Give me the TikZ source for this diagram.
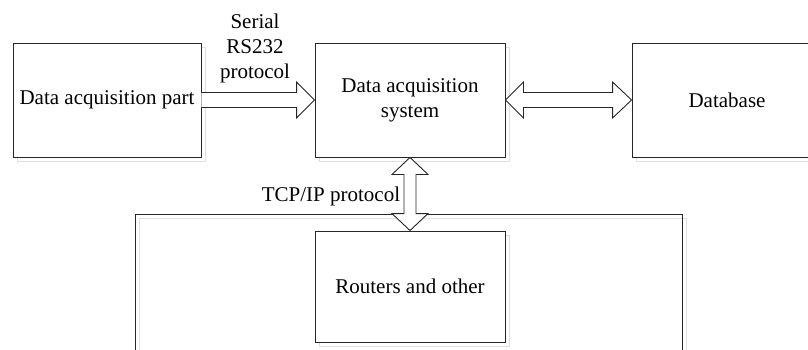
\documentclass[tikz,border=0pt]{standalone}
\usepackage{fontspec}
\setmainfont{Liberation Serif}
\usetikzlibrary{calc}
\tikzset{
  box/.style={draw=black!85, line width=0.9pt, inner sep=0pt, align=center,
    font=\fontsize{21}{25}\selectfont},
  shadowbox/.style={draw=black!12, line width=1pt},
  fatarrow/.style={draw=black!85, line width=0.9pt, fill=white, line join=miter},
  lbl/.style={inner sep=0pt, align=center, font=\fontsize{21}{25}\selectfont}
}
\begin{document}
\begin{tikzpicture}[x=1pt, y=-1pt]
\useasboundingbox (0,0) rectangle (808,349);
\clip (0,0) rectangle (808,349);
% shadows
\draw[shadowbox] (17,47) rectangle (205,161);
\draw[shadowbox] (319,47) rectangle (509,161);
\draw[shadowbox] (636,47) rectangle (826,161);
\draw[shadowbox] (139,218) rectangle (686,400);
\draw[shadowbox] (319,235) rectangle (509,346);
% boxes
\node[box, minimum width=547pt, minimum height=186pt, anchor=north west] (net) at (135,214) {};
\node[box, fill=white, minimum width=188pt, minimum height=114pt] (dap) at (107,100) {Data acquisition part};
\node[box, fill=white, minimum width=190pt, minimum height=114pt] (das) at (410,100) {Data acquisition\\system};
\node[box, fill=white, minimum width=190pt, minimum height=114pt] (db) at (727,100) {Database};
\node[box, fill=white, minimum width=190pt, minimum height=111pt] (rt) at (410,286.5) {Routers and other};
% serial arrow
\draw[fatarrow] ($(dap.east)+(0,-7.5)$) -- ($(das.west)+(-18,-7.5)$) -- ($(das.west)+(-18,-18)$)
  -- (das.west) -- ($(das.west)+(-18,18)$) -- ($(das.west)+(-18,7.5)$) -- ($(dap.east)+(0,7.5)$);
% das <-> db
\draw[fatarrow] (das.east) -- ($(das.east)+(18,-18)$) -- ($(das.east)+(18,-7.5)$)
  -- ($(db.west)+(-19,-7.5)$) -- ($(db.west)+(-19,-18)$) -- (db.west)
  -- ($(db.west)+(-19,18)$) -- ($(db.west)+(-19,7.5)$) -- ($(das.east)+(18,7.5)$)
  -- ($(das.east)+(18,18)$) -- cycle;
% das <-> routers
\draw[fatarrow] (das.south) -- ($(das.south)+(18,17)$) -- ($(das.south)+(6,17)$)
  -- ($(rt.north)+(6,-17)$) -- ($(rt.north)+(18,-17)$) -- (rt.north)
  -- ($(rt.north)+(-18,-17)$) -- ($(rt.north)+(-6,-17)$) -- ($(das.south)+(-6,17)$)
  -- ($(das.south)+(-18,17)$) -- cycle;
% labels
\node[lbl] (serial) at (255,48) {Serial\\RS232\\protocol};
\node[lbl] (tcp) at (331,196) {TCP/IP protocol};
\end{tikzpicture}
\end{document}
